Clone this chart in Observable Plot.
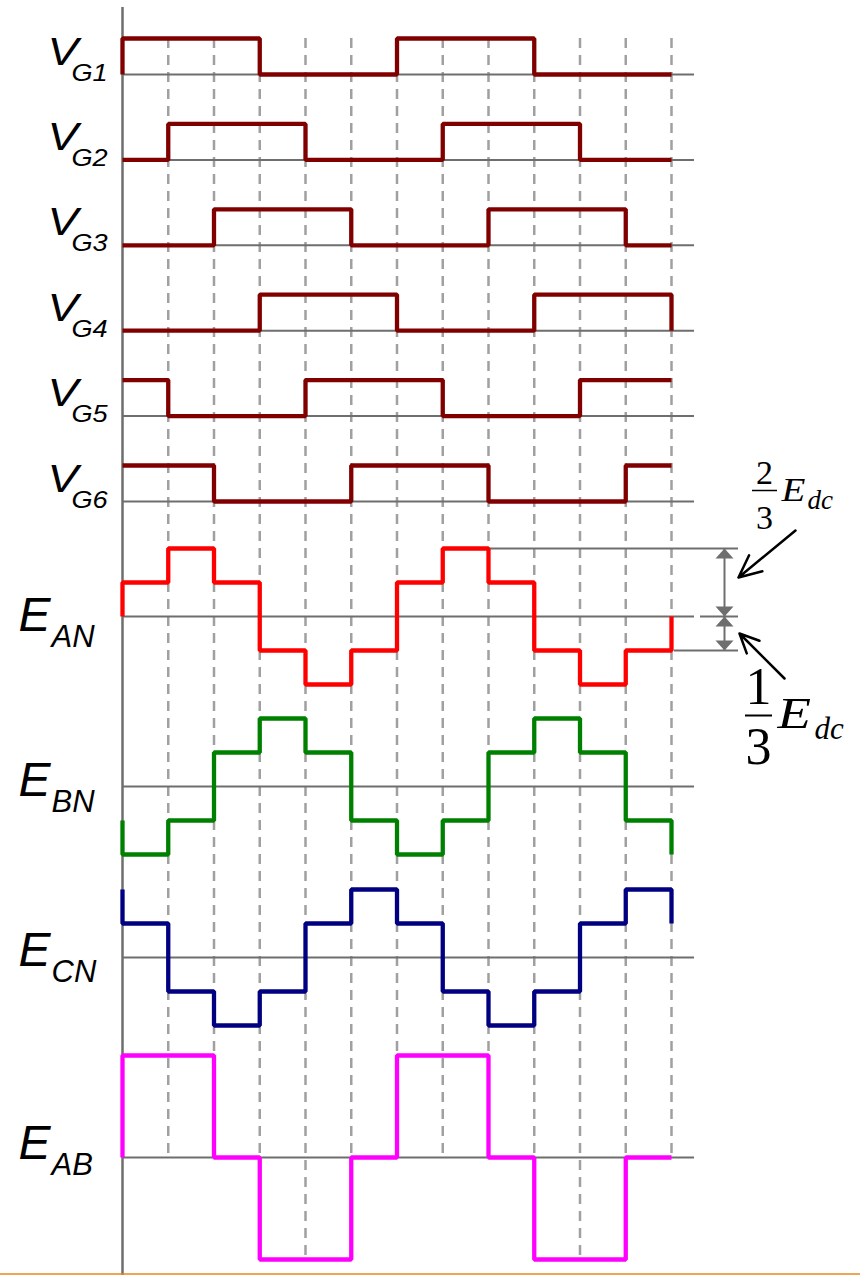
<!DOCTYPE html>
<html><head><meta charset="utf-8">
<script src="https://cdn.jsdelivr.net/npm/d3@7"></script>
<script src="https://cdn.jsdelivr.net/npm/@observablehq/plot@0.6"></script>
<style>body{margin:0;background:#fff} svg{display:block}</style>
</head><body><div id="chart"></div>
<script>
// ---------------- data ----------------
const steps = [0,1,2,3,4,5,6,7,8,9,10,11,12];           // 60° intervals
const gateNames = ["G1","G2","G3","G4","G5","G6"];
const VG1 = [1,1,1,0,0,0,1,1,1,0,0,0];
const VG2 = [0,1,1,1,0,0,0,1,1,1,0,0];
const VG3 = [0,0,1,1,1,0,0,0,1,1,1,0];
const VG4 = [0,0,0,1,1,1,0,0,0,1,1,1];
const VG5 = [1,0,0,0,1,1,1,0,0,0,1,1];
const VG6 = [1,1,0,0,0,1,1,1,0,0,0,1];
const gateStart = [0,0,0,0,1,1];
const gateEnd   = [0,0,0,0,1,1];
const phaseNames = ["AN","BN","CN","AB"];
// in units of Edc/3
const EAN = [1,2,1,-1,-2,-1,1,2,1,-1,-2,-1];
const EBN = [-2,-1,1,2,1,-1,-2,-1,1,2,1,-1];
const ECN = [1,-1,-2,-1,1,2,1,-1,-2,-1,1,2];
const EAB = [3,3,0,-3,-3,0,3,3,0,-3,-3,0];
const phaseStart = [0,-1,2,0];
const phaseEnd   = [0,-2,1,0];
const fracNum = ["2","1"];
const fracDen = ["3","3"];

// ---------------- layout ----------------
const W = 860, H = 1275;
const X0 = 122, X12 = 671, stepPx = (X12 - X0) / 12;
const toX = px => (px - X0) / stepPx;
const gateBase = i => 74 + i * 85.4;
const gateAmp = 36;
const phaseBase = [616, 786, 957, 1157];
const phaseAmp = 34;
const eLabelDy = [14, 9, 8, 1];

const gateColor = "#800000";
const phaseColors = ["#ff0000", "#008000", "#000080", "#ff00ff"];
const gray = "#6e6e6e";

function corners(vals, start, end, base, amp) {
  const pts = [];
  const Y = v => base - v * amp;
  pts.push({x: 0, y: Y(start)});
  if (vals[0] !== start) pts.push({x: 0, y: Y(vals[0])});
  for (let i = 1; i < vals.length; i++) {
    if (vals[i] !== vals[i - 1]) { pts.push({x: i, y: Y(vals[i - 1])}); pts.push({x: i, y: Y(vals[i])}); }
  }
  const last = vals[vals.length - 1];
  pts.push({x: 12, y: Y(last)});
  if (end !== last) pts.push({x: 12, y: Y(end)});
  return pts;
}

const gates = [VG1, VG2, VG3, VG4, VG5, VG6];
const phases = [EAN, EBN, ECN, EAB];
const rows = [...gates.map((g, i) => gateBase(i)), ...phaseBase];

const waveStyle = {x: "x", y: "y", strokeWidth: 4.3, strokeLinejoin: "miter", strokeLinecap: "butt"};
const waveMarks = [
  ...gates.map((g, i) => Plot.line(corners(g, gateStart[i], gateEnd[i], gateBase(i), gateAmp),
      {...waveStyle, stroke: gateColor})),
  ...phases.map((p, i) => Plot.line(corners(p, phaseStart[i], phaseEnd[i], phaseBase[i], phaseAmp),
      {...waveStyle, stroke: phaseColors[i]}))
];

// dashed guide end: EAB baseline, or its low level when EAB is negative on both sides
const dashEnd = d => phaseBase[3] - Math.min(0, Math.max(EAB[d - 1], EAB[d] ?? EAB[d - 1])) * phaseAmp;

const triSym = {draw(ctx) { ctx.moveTo(0, 0); ctx.lineTo(9, 10); ctx.lineTo(-9, 10); ctx.closePath(); }};
const dimX = toX(724);
const ePos = phaseBase[0];
const lvl = v => ePos - v * phaseAmp;

const serif = "Liberation Serif, Times New Roman, serif";
const sans = "Liberation Sans, Arial, sans-serif";
const txt = {textAnchor: "start", lineAnchor: "bottom", fill: "#000"};
const vSize = 39, gSize = 23, e1Size = 34, e2Size = 45;

const chart = Plot.plot({
  width: W, height: H, margin: 0,
  x: {domain: [0, 12], range: [X0, X12], axis: null},
  y: {domain: [0, H], range: [0, H], axis: null},
  style: {background: "#fff"},
  marks: [
    // dashed guides
    Plot.ruleX(steps.slice(1), {x: d => d, y1: gateBase(0) - gateAmp, y2: d => dashEnd(d),
      stroke: "#a0a0a0", strokeWidth: 2.5, strokeDasharray: "10,7"}),
    // baselines
    Plot.ruleY(rows, {y: d => d, x1: 0, x2: toX(694), stroke: gray, strokeWidth: 2}),
    // vertical axis
    Plot.ruleX([0], {x: d => d, y1: 7, y2: H, stroke: gray, strokeWidth: 2.5}),
    // dimension extension lines
    Plot.ruleY([2], {y: d => lvl(d), x1: 8, x2: toX(738), stroke: gray, strokeWidth: 2}),
    Plot.ruleY([0], {y: d => lvl(d), x1: toX(700), x2: toX(738), stroke: gray, strokeWidth: 2}),
    Plot.ruleY([-1], {y: d => lvl(d), x1: toX(674), x2: toX(738), stroke: gray, strokeWidth: 2}),
    Plot.ruleX([[2, 0], [0, -1]], {x: dimX, y1: d => lvl(d[0]), y2: d => lvl(d[1]), stroke: gray, strokeWidth: 2}),
    Plot.dot([2, 0], {x: dimX, y: d => lvl(d), symbol: triSym, fill: gray, stroke: null}),
    Plot.dot([0, -1], {x: dimX, y: d => lvl(d), symbol: triSym, fill: gray, stroke: null, rotate: 180}),
    ...waveMarks,
    // bottom orange border
    Plot.ruleY([H - 1.5], {y: d => d, stroke: "#e8891c", strokeWidth: 1.5}),
    // pointer arrows
    Plot.arrow([0], {x1: toX(795), y1: 530, x2: toX(738), y2: 577, stroke: "#000", strokeWidth: 2.5, headLength: 15, headAngle: 50}),
    Plot.arrow([0], {x1: toX(784), y1: 678, x2: toX(739), y2: 633, stroke: "#000", strokeWidth: 2.5, headLength: 15, headAngle: 50}),
    // gate labels
    Plot.text(gateNames, {...txt, x: toX(47), y: (d, i) => gateBase(i) - 10, text: () => "V", fontSize: vSize, fontStyle: "italic", fontFamily: sans}),
    Plot.text(gateNames, {...txt, x: toX(71), y: (d, i) => gateBase(i) + 6, text: d => d, fontSize: gSize, fontStyle: "italic", fontFamily: sans}),
    // phase labels
    Plot.text(phaseNames, {...txt, x: toX(18), y: (d, i) => phaseBase[i] + eLabelDy[i], text: () => "E", fontSize: 48, fontStyle: "italic", fontFamily: sans}),
    Plot.text(phaseNames, {...txt, x: toX(51), y: (d, i) => phaseBase[i] + eLabelDy[i] + 16, text: d => d, fontSize: 31, fontStyle: "italic", fontFamily: sans}),
    // fraction 2/3 Edc
    Plot.text([fracNum[0]], {...txt, x: toX(764), y: 483, text: d => d, fontSize: 34, fontFamily: serif, textAnchor: "middle"}),
    Plot.ruleY([490], {y: d => d, x1: toX(752), x2: toX(777), stroke: "#000", strokeWidth: 1.5}),
    Plot.text([fracDen[0]], {...txt, x: toX(764), y: 528, text: d => d, fontSize: 34, fontFamily: serif, textAnchor: "middle"}),
    Plot.text(["E"], {...txt, x: toX(781), y: 500, text: d => d, fontSize: e1Size, fontStyle: "italic", fontFamily: serif}),
    Plot.text(["dc"], {...txt, x: toX(807), y: 508, text: d => d, fontSize: 27, fontStyle: "italic", fontFamily: serif}),
    // fraction 1/3 Edc
    Plot.text([fracNum[1]], {...txt, x: toX(758), y: 703, text: d => d, fontSize: 52, fontFamily: serif, textAnchor: "middle"}),
    Plot.ruleY([715], {y: d => d, x1: toX(745), x2: toX(772), stroke: "#000", strokeWidth: 2}),
    Plot.text([fracDen[1]], {...txt, x: toX(758), y: 763, text: d => d, fontSize: 52, fontFamily: serif, textAnchor: "middle"}),
    Plot.text(["E"], {...txt, x: toX(777), y: 727, text: d => d, fontSize: e2Size, fontStyle: "italic", fontFamily: serif}),
    Plot.text(["dc"], {...txt, x: toX(814), y: 738, text: d => d, fontSize: 31, fontStyle: "italic", fontFamily: serif})
  ]
});

// horizontal stretch of some labels (about each text's own anchor)
const stretchBySize = {[vSize]: 1.18, [gSize]: 1.18, [e1Size]: 1.15, [e2Size]: 1.22};
d3.select(chart).selectAll("text").each(function () {
  const g = this.parentNode;
  const fs = g && g.getAttribute("font-size");
  const s = stretchBySize[fs];
  if (!s) return;
  const isE = this.textContent === "E";
  if ((+fs === e1Size || +fs === e2Size) && !isE) return;
  const t = this.getAttribute("transform") || "";
  this.setAttribute("transform", `${t} scale(${s},1)`);
});
document.getElementById("chart").appendChild(chart);
</script>
</body></html>
